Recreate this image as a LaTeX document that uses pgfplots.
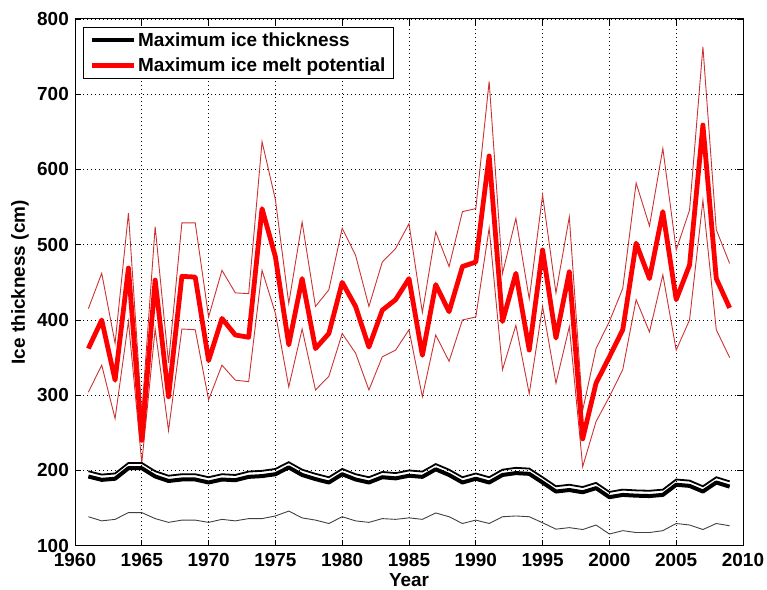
\documentclass[border=0pt]{standalone}
\usepackage{fontspec}
\setmainfont{Liberation Sans}
\usepackage{pgfplots}
\usepackage{pgfplotstable}
\pgfplotsset{compat=1.18}
\definecolor{thinred}{RGB}{205,50,50}
\definecolor{mainred}{RGB}{255,0,0}
\pgfplotstableread{
year bmain bup blow rmain rup rlow
1961 192 199 138.5 362 415 304
1962 187.5 194.5 133 400 462 340
1963 189 196 135 320 369 269
1964 203 210 144 469 542 398
1965 203 210 144 240 275 210
1966 192 199 136 453 524 388
1967 186 193 131 298 343 253
1968 188 195 134 458 529 388
1969 188 195 134 457 529 387
1970 184 191 131 346 404 294
1971 188 195 135 402 466 340
1972 187 194 133 380 436 320
1973 191.5 198.5 136 377 435 318
1974 192.5 199.5 136 548 637 466
1975 195 202 139.5 484 560 409
1976 204 211 146 367 422 311
1977 194 201 137 455 530 388
1978 188.5 195.5 134 362 418 307
1979 184 191 129.5 382 440 325
1980 195 202 138.5 450 522 382
1981 188 195 133 418 486 356
1982 184 191 131 364 418 307
1983 191 198 136 413 477 351
1984 189.5 196.5 135 427 495 360
1985 193 200 137 455 528 387
1986 191.5 198.5 135 353 410 298
1987 201.5 208.5 143.5 447 517 380
1988 194 201 138.5 411 471 345
1989 184 191 129.5 471 544 400
1990 189 196 134 477 548 404
1991 184 191 129.5 618 717 522
1992 194 201 138.5 398 462 334
1993 196.5 203.5 139.5 462 535 393
1994 195.5 202.5 138.5 360 428 302
1995 184 191 130.5 493 566 418
1996 172 179 122 376 436 316
1997 174 181 124 464 537 391
1998 171 178 121.5 242 280 205
1999 176.5 183.5 127.5 316 362 265
2000 164.5 171.5 115.5 351 398 298
2001 167.5 174.5 120 387 442 334
2002 166.5 173.5 117.5 502 582 427
2003 166 173 117.5 455 525 384
2004 167.5 174.5 120 544 628 460
2005 181 188 129.5 427 493 360
2006 179.5 186.5 127.5 473 546 400
2007 172 179 121.5 659 763 559
2008 184 191 129.5 455 520 387
2009 178.5 185.5 126.5 416 475 350
}\data
\begin{document}
\begin{tikzpicture}
\begin{axis}[
  at={(75bp,44.3bp)}, anchor=south west,
  scale only axis, width=668bp, height=526.7bp,
  xmin=1960, xmax=2010, ymin=100, ymax=800,
  xtick={1960,1965,...,2010}, ytick={100,200,...,800},
  /pgf/number format/assume math mode=true,
  /pgf/number format/1000 sep={},
  tick label style={font=\fontsize{19}{21}\selectfont\bfseries},
  xticklabel style={inner sep=0pt, yshift=-7bp},
  yticklabel style={inner sep=0pt, xshift=-6bp},
  major tick length=6bp,
  tick style={black, line width=0.8bp},
  axis line style={black, line width=1bp},
  grid=major,
  grid style={black, line width=0.7bp, dash pattern=on 1bp off 3bp},
  xlabel={Year}, ylabel={Ice thickness (cm)},
  label style={font=\fontsize{19}{21}\selectfont\bfseries, inner sep=0pt},
  xlabel style={at={(axis description cs:0.5,-0.053)}, anchor=north},
  ylabel style={at={(axis description cs:-0.0823,0.5)}, anchor=center},
  legend style={at={(axis description cs:0.012,0.985)}, anchor=north west,
    font=\fontsize{19}{21}\selectfont\bfseries, draw=black, line width=0.8bp,
    fill=white, inner xsep=6bp, inner ysep=3.5bp, row sep=6bp,
    nodes={inner sep=2bp, text depth=0.15em}, cells={anchor=west}},
  legend image code/.code={\draw[#1] (0bp,0bp) -- (42bp,0bp);},
]
\addplot[forget plot, black!75, line width=0.9bp] table[x=year, y=blow] {\data};
\addplot[forget plot, thinred, line width=0.9bp] table[x=year, y=rup] {\data};
\addplot[forget plot, thinred, line width=0.9bp] table[x=year, y=rlow] {\data};
\addplot[black, line width=4bp, line join=round] table[x=year, y=bmain] {\data};
\addlegendentry{Maximum ice thickness}
\addplot[mainred, line width=4.8bp, line join=round] table[x=year, y=rmain] {\data};
\addlegendentry{Maximum ice melt potential}
\addplot[forget plot, black, line width=1.8bp] table[x=year, y=bup] {\data};
\end{axis}
\pgfresetboundingbox
\path[use as bounding box] (0,0) rectangle (767bp,590bp);
\end{tikzpicture}
\end{document}
